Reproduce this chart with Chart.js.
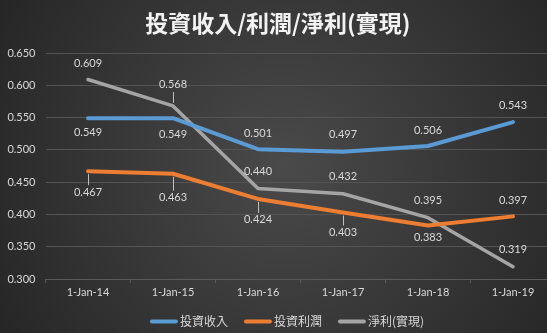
<!DOCTYPE html>
<html>
<head>
<meta http-equiv="Content-Type" content="text/html; charset=UTF-8">
<title>投資收入/利潤/淨利(實現)</title>
<style type="text/css">
body {
	margin: 0;
	overflow: hidden;
	background: #262626;
}
.container {
	width: 570px;
	height: 333px;
}
</style>
<script type="text/javascript" src="https://cdn.jsdelivr.net/npm/chart.js@4/dist/chart.umd.min.js"></script>
</head>
<body>
	<div class="container"><canvas id="chart_main"></canvas></div>
<script type="text/javascript">
	// Datos del grafico
	var fechas = ['1-Jan-14', '1-Jan-15', '1-Jan-16', '1-Jan-17', '1-Jan-18', '1-Jan-19'];
	var ingresoInversion = [0.549, 0.549, 0.501, 0.497, 0.506, 0.543];
	var beneficioInversion = [0.467, 0.463, 0.424, 0.403, 0.383, 0.397];
	var beneficioNeto = [0.609, 0.568, 0.440, 0.432, 0.395, 0.319];
	var nombresSeries = ['投資收入', '投資利潤', '淨利(實現)'];

	var colores = ['#5b9bd5', '#ed7d31', '#a5a5a5'];
	// Desplazamiento vertical de cada etiqueta respecto a su punto (px)
	var desplazEtiquetas = [
		[14, 16, -16, -17, -16, -17],
		[21, 24, 21, 20, 12, -16],
		[-16, -21, -17, -17, -17, -17]
	];
	var fuenteNum = '11px Lato';
	var colorTexto = '#d9d9d9';

	// Fondo con degradado radial
	var fondo = {
		id: 'fondo',
		beforeDraw: function(chart) {
			var ctx = chart.ctx;
			var w = chart.width, h = chart.height;
			var g = ctx.createRadialGradient(w / 2, h / 2, 0, w / 2, h / 2, 330);
			g.addColorStop(0, '#4a4a4a');
			g.addColorStop(1, '#262626');
			ctx.save();
			ctx.fillStyle = g;
			ctx.fillRect(0, 0, w, h);
			ctx.restore();
		}
	};

	// Etiquetas de valor con lineas guia cuando quedan lejos del punto
	var etiquetas = {
		id: 'etiquetas',
		afterDatasetsDraw: function(chart) {
			var ctx = chart.ctx;
			ctx.save();
			ctx.font = fuenteNum;
			ctx.textAlign = 'center';
			ctx.textBaseline = 'middle';
			chart.data.datasets.forEach(function(ds, i) {
				var meta = chart.getDatasetMeta(i);
				meta.data.forEach(function(pt, j) {
					var dy = desplazEtiquetas[i][j];
					var ly = pt.y + dy;
					if (Math.abs(dy) >= 20) {
						var s = dy > 0 ? 1 : -1;
						ctx.strokeStyle = '#bfbfbf';
						ctx.lineWidth = 1;
						ctx.beginPath();
						ctx.moveTo(Math.round(pt.x) + 0.5, pt.y + s * 3);
						ctx.lineTo(Math.round(pt.x) + 0.5, ly - s * 7);
						ctx.stroke();
					}
					ctx.fillStyle = colorTexto;
					ctx.fillText(ds.data[j].toFixed(3), pt.x, ly);
				});
			});
			ctx.restore();
		}
	};

	// Leyenda inferior: linea corta + nombre de la serie
	var leyenda = {
		id: 'leyenda',
		afterDraw: function(chart) {
			var ctx = chart.ctx;
			var anchoLinea = 28, hueco = 2, separacion = 16;
			var y = 321.5;
			ctx.save();
			ctx.font = '12px "Noto Sans CJK TC"';
			var anchos = chart.data.datasets.map(function(ds) {
				return anchoLinea + hueco + ctx.measureText(ds.label).width;
			});
			var total = anchos.reduce(function(a, b) { return a + b; }, 0) + separacion * (anchos.length - 1);
			var x = 287 - total / 2;
			chart.data.datasets.forEach(function(ds, i) {
				ctx.strokeStyle = ds.borderColor;
				ctx.lineWidth = 4;
				ctx.lineCap = 'round';
				ctx.beginPath();
				ctx.moveTo(x + 2, y);
				ctx.lineTo(x + anchoLinea - 2, y);
				ctx.stroke();
				ctx.fillStyle = colorTexto;
				ctx.textAlign = 'left';
				ctx.textBaseline = 'middle';
				ctx.fillText(ds.label, x + anchoLinea + hueco, y);
				x += anchos[i] + separacion;
			});
			ctx.restore();
		}
	};

	var series = [ingresoInversion, beneficioInversion, beneficioNeto];
	var datasets = series.map(function(valores, i) {
		return {
			label: nombresSeries[i],
			data: valores,
			borderColor: colores[i],
			backgroundColor: colores[i],
			borderWidth: i == 2 ? 3.5 : 4,
			borderCapStyle: 'round',
			borderJoinStyle: 'round',
			pointRadius: 0,
			tension: 0,
			fill: false
		};
	});

	var ctx = document.getElementById('chart_main').getContext('2d');
	var grafico = new Chart(ctx, {
		type: 'line',
		data: {
			labels: fechas,
			datasets: datasets
		},
		options: {
			responsive: true,
			maintainAspectRatio: false,
			animation: false,
			layout: { padding: { left: 0, right: 14.5, top: 0, bottom: 0 } },
			plugins: {
				legend: { display: false },
				tooltip: { enabled: false },
				title: {
					display: true,
					text: '投資收入/利潤/淨利(實現)',
					color: '#f2f2f2',
					font: { family: '"Noto Sans CJK TC"', size: 23, weight: 'bold', lineHeight: 1.2 },
					padding: { top: 9.2, bottom: 16.2 }
				}
			},
			scales: {
				x: {
					offset: true,
					grid: {
						display: true,
						offset: true,
						drawOnChartArea: false,
						drawTicks: true,
						tickLength: 4,
						color: '#5a5a5a'
					},
					border: { display: true, color: '#5a5a5a', width: 1 },
					ticks: { color: colorTexto, font: { family: 'Lato', size: 11 }, padding: 3, maxRotation: 0 },
					afterFit: function(scale) { scale.height = 54; }
				},
				y: {
					min: 0.3,
					max: 0.65,
					grid: { color: '#545454', drawTicks: false },
					border: { display: false },
					ticks: {
						stepSize: 0.05,
						color: colorTexto,
						font: { family: 'Lato', size: 11 },
						padding: 10,
						callback: function(v) { return v.toFixed(3); }
					},
					afterFit: function(scale) { scale.width = 45.5; }
				}
			}
		},
		plugins: [fondo, etiquetas, leyenda]
	});
</script>
</body>
</html>
